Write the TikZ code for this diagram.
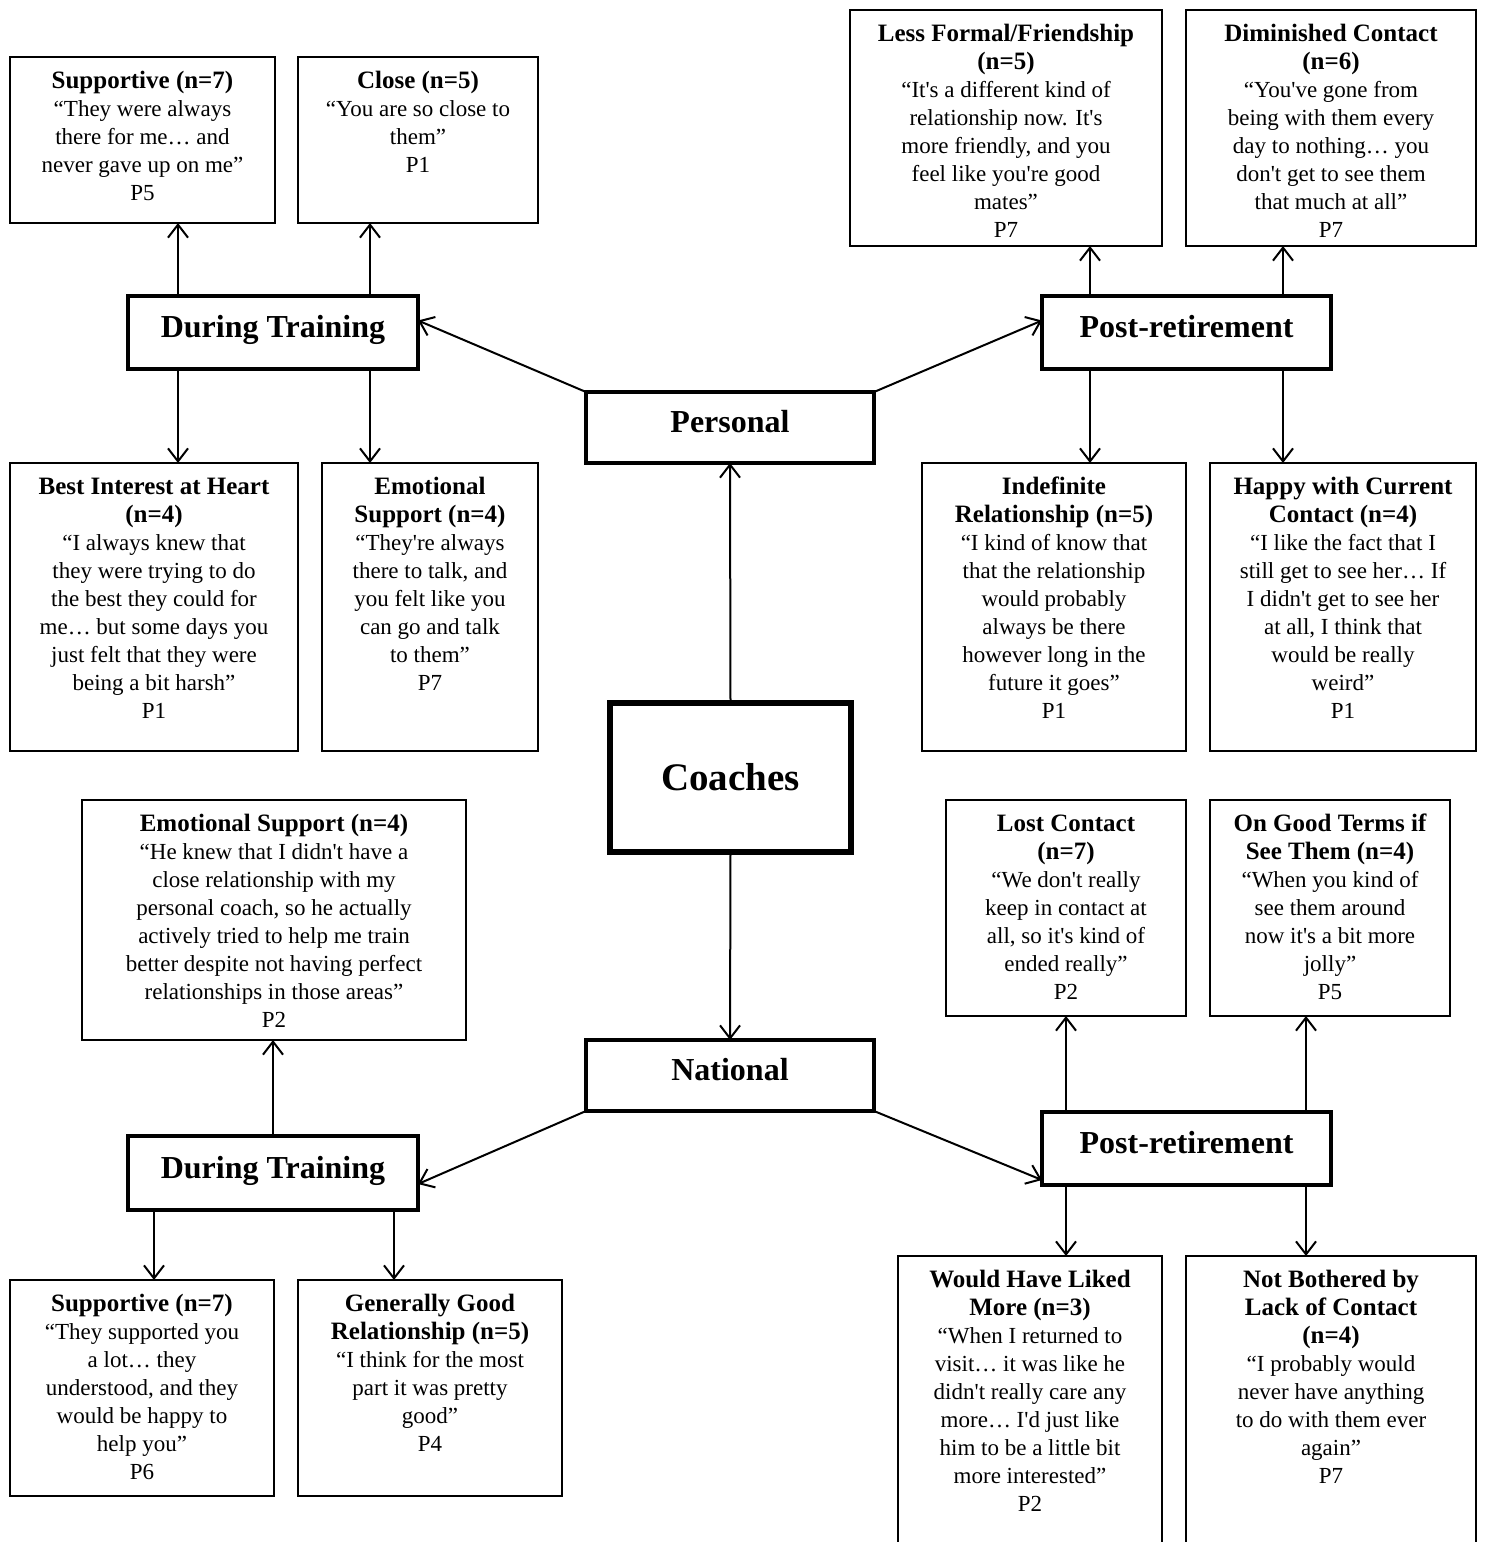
\documentclass[tikz,border=0pt]{standalone}
\usepackage{fontspec}
\setmainfont{Liberation Serif}
\usetikzlibrary{arrows.meta}
\newcommand{\aps}{\textquotesingle}
\newcommand{\hd}[1]{{\fontsize{25}{28}\selectfont\bfseries #1}}
\tikzset{
  x=1pt, y=-1pt,
  qbox/.style={draw, line width=1.5pt, inner sep=0pt, outer sep=0pt, anchor=north west},
  hbox/.style={draw, line width=4pt, inner sep=0pt, outer sep=0pt, anchor=north west,
    align=center, text height=22pt, text depth=12pt, font=\fontsize{32}{36}\selectfont\bfseries},
  cbox/.style={draw, line width=6pt, inner sep=0pt, outer sep=0pt, anchor=north west,
    align=center, font=\fontsize{39}{44}\selectfont\bfseries},
  conn/.style={line width=2pt, -{Straight Barb[length=13pt,width=20pt,line width=2pt]}},
}
\newcommand{\qb}[6]{%
  \node[qbox] (#1) at (#2,#3) {\begin{minipage}[t][\dimexpr#5pt-#3pt\relax][t]{\dimexpr#4pt-#2pt\relax}%
  \centering\fontsize{23}{28}\selectfont\rule{0pt}{31pt}#6\end{minipage}};}
\begin{document}
\begin{tikzpicture}
\fill[white] (0,0) rectangle (1484,1542);
\useasboundingbox (0,0) rectangle (1484,1542);

% ---- personal, during training
\qb{sup1}{10}{57}{275}{223}{\hd{Supportive (n=7)}\\“They were always\\there for me… and\\never gave up on me”\\P5}
\qb{close}{298}{57}{538}{223}{\hd{Close (n=5)}\\“You are so close to\\them”\\P1}
\qb{best}{10}{463}{298}{751}{\hd{Best Interest at Heart}\\\hd{(n=4)}\\“I always knew that\\they were trying to do\\the best they could for\\me… but some days you\\just felt that they were\\being a bit harsh”\\P1}
\qb{emoA}{322}{463}{538}{751}{\hd{Emotional}\\\hd{Support (n=4)}\\“They\aps re always\\there to talk, and\\you felt like you\\can go and talk\\to them”\\P7}

% ---- personal, post-retirement
\qb{lessf}{850}{10}{1162}{246}{\hd{Less Formal/Friendship}\\\hd{(n=5)}\\“It\aps s a different kind of\\relationship now. It\aps s\\more friendly, and you\\feel like you\aps re good\\mates”\\P7}
\qb{dimin}{1186}{10}{1476}{246}{\hd{Diminished Contact}\\\hd{(n=6)}\\“You\aps ve gone from\\being with them every\\day to nothing… you\\don\aps t get to see them\\that much at all”\\P7}
\qb{indef}{922}{463}{1186}{751}{\hd{Indefinite}\\\hd{Relationship (n=5)}\\“I kind of know that\\that the relationship\\would probably\\always be there\\however long in the\\future it goes”\\P1}
\qb{happy}{1210}{463}{1476}{751}{\hd{Happy with Current}\\\hd{Contact (n=4)}\\“I like the fact that I\\still get to see her… If\\I didn\aps t get to see her\\at all, I think that\\would be really\\weird”\\P1}

% ---- national, during training
\qb{emoB}{82}{800}{466}{1040}{\hd{Emotional Support (n=4)}\\“He knew that I didn\aps t have a\\close relationship with my\\personal coach, so he actually\\actively tried to help me train\\better despite not having perfect\\relationships in those areas”\\P2}
\qb{supB}{10}{1280}{274}{1496}{\hd{Supportive (n=7)}\\“They supported you\\a lot… they\\understood, and they\\would be happy to\\help you”\\P6}
\qb{gen}{298}{1280}{562}{1496}{\hd{Generally Good}\\\hd{Relationship (n=5)}\\“I think for the most\\part it was pretty\\good”\\P4}

% ---- national, post-retirement
\qb{lost}{946}{800}{1186}{1016}{\hd{Lost Contact}\\\hd{(n=7)}\\“We don\aps t really\\keep in contact at\\all, so it\aps s kind of\\ended really”\\P2}
\qb{good}{1210}{800}{1450}{1016}{\hd{On Good Terms if}\\\hd{See Them (n=4)}\\“When you kind of\\see them around\\now it\aps s a bit more\\jolly”\\P5}
\qb{would}{898}{1256}{1162}{1560}{\hd{Would Have Liked}\\\hd{More (n=3)}\\“When I returned to\\visit… it was like he\\didn\aps t really care any\\more… I\aps d just like\\him to be a little bit\\more interested”\\P2}
\qb{notb}{1186}{1256}{1476}{1560}{\hd{Not Bothered by}\\\hd{Lack of Contact}\\\hd{(n=4)}\\“I probably would\\never have anything\\to do with them ever\\again”\\P7}

% ---- category boxes
\node[hbox, minimum width=290pt, minimum height=73pt] (dtA) at (128,296) {During Training};
\node[hbox, minimum width=289pt, minimum height=73pt] (prA) at (1042,296) {Post-retirement};
\node[hbox, minimum width=288pt, minimum height=71pt] (personal) at (586,392) {Personal};
\node[cbox, minimum width=241pt, minimum height=149pt] (coaches) at (610,703) {Coaches};
\node[hbox, minimum width=288pt, minimum height=71pt] (national) at (586,1040) {National};
\node[hbox, minimum width=290pt, minimum height=74pt] (dtB) at (128,1136) {During Training};
\node[hbox, minimum width=289pt, minimum height=73pt] (prB) at (1042,1112) {Post-retirement};

% ---- connectors
\draw[conn] (coaches.north) -- (personal.south);
\draw[conn] (coaches.south) -- (national.north);
\draw[conn] (personal.north west) -- ([yshift=12pt]dtA.east);
\draw[conn] (personal.north east) -- ([yshift=12pt]prA.west);
\draw[conn] (national.south west) -- ([yshift=-11pt]dtB.west -| dtB.east);
\draw[conn] (national.south east) -- ([yshift=5pt]prB.south west);

\draw[conn] ([xshift=50pt]dtA.north west) -- ([xshift=50pt]dtA.north west |- sup1.south);
\draw[conn] ([xshift=-48pt]dtA.north east) -- ([xshift=-48pt]dtA.north east |- close.south);
\draw[conn] ([xshift=50pt]dtA.south west) -- ([xshift=50pt]dtA.south west |- best.north);
\draw[conn] ([xshift=-48pt]dtA.south east) -- ([xshift=-48pt]dtA.south east |- emoA.north);

\draw[conn] ([xshift=48pt]prA.north west) -- ([xshift=48pt]prA.north west |- lessf.south);
\draw[conn] ([xshift=-48pt]prA.north east) -- ([xshift=-48pt]prA.north east |- dimin.south);
\draw[conn] ([xshift=48pt]prA.south west) -- ([xshift=48pt]prA.south west |- indef.north);
\draw[conn] ([xshift=-48pt]prA.south east) -- ([xshift=-48pt]prA.south east |- happy.north);

\draw[conn] (dtB.north) -- (dtB.north |- emoB.south);
\draw[conn] ([xshift=26pt]dtB.south west) -- ([xshift=26pt]dtB.south west |- supB.north);
\draw[conn] ([xshift=-24pt]dtB.south east) -- ([xshift=-24pt]dtB.south east |- gen.north);

\draw[conn] ([xshift=24pt]prB.north west) -- ([xshift=24pt]prB.north west |- lost.south);
\draw[conn] ([xshift=-25pt]prB.north east) -- ([xshift=-25pt]prB.north east |- good.south);
\draw[conn] ([xshift=24pt]prB.south west) -- ([xshift=24pt]prB.south west |- would.north);
\draw[conn] ([xshift=-25pt]prB.south east) -- ([xshift=-25pt]prB.south east |- notb.north);
\end{tikzpicture}
\end{document}
